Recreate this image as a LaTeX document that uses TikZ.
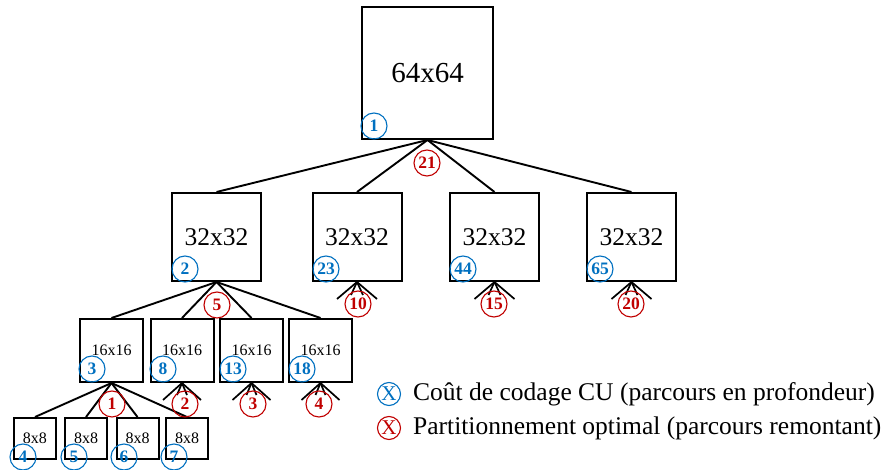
\documentclass[tikz,border=0pt]{standalone}
\usepackage{fontspec}
\setmainfont{Liberation Serif}
\definecolor{cblue}{RGB}{0,112,192}
\definecolor{cred}{RGB}{192,0,0}
\tikzset{
  blk/.style={draw, line width=2pt, inner sep=0pt},
  b64/.style={blk, minimum width=131pt, minimum height=132pt, font=\fontsize{29}{30}\selectfont},
  b32/.style={blk, minimum width=89pt, minimum height=88pt, font=\fontsize{25.5}{27}\selectfont},
  b16/.style={blk, minimum width=63pt, minimum height=63pt, font=\fontsize{16}{17}\selectfont},
  b8/.style={blk, minimum width=42pt, minimum height=41pt, font=\fontsize{16}{17}\selectfont},
  bc/.style={circle, draw=cblue, line width=1.1pt, minimum size=26pt, inner sep=0pt, text=cblue, font=\fontsize{17.5}{18}\selectfont\bfseries},
  rc/.style={circle, draw=cred, line width=1.1pt, minimum size=26pt, inner sep=0pt, text=cred, font=\fontsize{17.5}{18}\selectfont\bfseries},
  edge/.style={line width=1.9pt},
  fan/.style={line width=1.7pt},
  lgc/.style={circle, line width=1.1pt, minimum size=23pt, inner sep=0pt, font=\fontsize{21}{22}\selectfont},
  lgt/.style={anchor=west, inner sep=0pt, font=\fontsize{25.5}{27}\selectfont}
}
\begin{document}
\begin{tikzpicture}[x=1pt,y=-1pt]
\useasboundingbox (0,0) rectangle (892,470);
% boxes
\node[b64] (n64) at (427.5,73) {64x64};
\node[b32] (a32) at (216.5,237) {32x32};
\node[b32] (b32) at (357,237) {32x32};
\node[b32] (c32) at (494.5,237) {32x32};
\node[b32] (d32) at (631.5,237) {32x32};
\node[b16] (a16) at (111.5,350.5) {16x16};
\node[b16] (b16) at (182,350.5) {16x16};
\node[b16] (c16) at (251.5,350.5) {16x16};
\node[b16] (d16) at (320.5,350.5) {16x16};
\node[b8] (a8) at (35,438.5) {8x8};
\node[b8] (b8) at (86,438.5) {8x8};
\node[b8] (c8) at (137.5,438.5) {8x8};
\node[b8] (d8) at (187,438.5) {8x8};
% edges
\foreach \t in {a32,b32,c32,d32} \draw[edge] (n64.south) -- (\t.north);
\foreach \t in {a16,b16,c16,d16} \draw[edge] (a32.south) -- (\t.north);
\foreach \t in {a8,b8,c8,d8} \draw[edge] (a16.south) -- (\t.north);
% fans
\foreach \t in {b32,c32,d32} {
  \draw[fan] (\t.south) -- ++(-20,17);
  \draw[fan] (\t.south) -- ++(-6,13);
  \draw[fan] (\t.south) -- ++(6,13);
  \draw[fan] (\t.south) -- ++(20,17);
}
\foreach \t in {b16,c16,d16} {
  \draw[fan] (\t.south) -- ++(-19,17);
  \draw[fan] (\t.south) -- ++(-5,12);
  \draw[fan] (\t.south) -- ++(5,12);
  \draw[fan] (\t.south) -- ++(19,17);
}
% blue circles
\node[bc] (c1) at (374,126) {1};
\node[bc] (c2) at (185,269) {2};
\node[bc] (c23) at (326,269) {23};
\node[bc] (c44) at (463,269) {44};
\node[bc] (c65) at (600,269) {65};
\node[bc] (c3) at (92,369) {3};
\node[bc] (c8) at (163,369) {8};
\node[bc] (c13) at (233,369) {13};
\node[bc] (c18) at (302,369) {18};
\node[bc] (c4) at (23,457) {4};
\node[bc] (c5) at (74,457) {5};
\node[bc] (c6) at (124,457) {6};
\node[bc] (c7) at (174,457) {7};
% red circles
\node[rc] (r21) at (427,163) {21};
\node[rc] (r5) at (217,305) {5};
\node[rc] (r10) at (358,304) {10};
\node[rc] (r15) at (494,304) {15};
\node[rc] (r20) at (631,304) {20};
\node[rc] (r1) at (112,404) {1};
\node[rc] (r2) at (185,404) {2};
\node[rc] (r3) at (253,404) {3};
\node[rc] (r4) at (319,404) {4};
% legend
\node[lgc, draw=cblue, text=cblue] (lb) at (389,394) {X};
\node[lgt] (lbt) at (413,394) {Coût de codage CU (parcours en profondeur)};
\node[lgc, draw=cred, text=cred] (lr) at (389,428) {X};
\node[lgt] (lrt) at (413,428) {Partitionnement optimal (parcours remontant)};
\end{tikzpicture}
\end{document}
